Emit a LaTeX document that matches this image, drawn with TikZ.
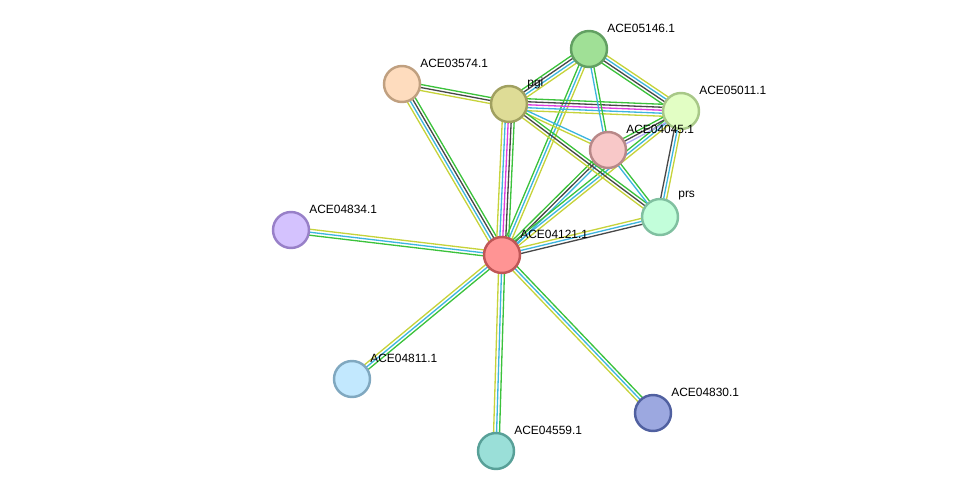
\documentclass[tikz,border=0pt]{standalone}
\usepackage{fontspec}
\newfontfamily\lblfont{Liberation Sans}
\usetikzlibrary{calc}
\pgfdeclarelayer{links}
\pgfsetlayers{links,main}
% evidence colours
\definecolor{lnb}{HTML}{3BC23B}
\definecolor{lcx}{HTML}{484848}
\definecolor{lex}{HTML}{DC3CDC}
\definecolor{ldb}{HTML}{3DB5DE}
\definecolor{ltm}{HTML}{C6D33A}
\definecolor{lho}{HTML}{B0A8F8}
% protein colours (fill, rim)
\definecolor{f04121}{HTML}{FF9494}\definecolor{r04121}{HTML}{C05656}
\definecolor{f05146}{HTML}{A0E096}\definecolor{r05146}{HTML}{62A062}
\definecolor{f03574}{HTML}{FEDCBE}\definecolor{r03574}{HTML}{C0A080}
\definecolor{fpgi}{HTML}{DEDC96}\definecolor{rpgi}{HTML}{A0A060}
\definecolor{f05011}{HTML}{E2FEC4}\definecolor{r05011}{HTML}{A8C888}
\definecolor{f04045}{HTML}{F8C8C8}\definecolor{r04045}{HTML}{B88888}
\definecolor{fprs}{HTML}{C2FEDA}\definecolor{rprs}{HTML}{80C0A0}
\definecolor{f04834}{HTML}{D4C2FE}\definecolor{r04834}{HTML}{9880C8}
\definecolor{f04811}{HTML}{C2E8FE}\definecolor{r04811}{HTML}{80A8C0}
\definecolor{f04830}{HTML}{9CA8E0}\definecolor{r04830}{HTML}{5060A0}
\definecolor{f04559}{HTML}{9ADFD8}\definecolor{r04559}{HTML}{58A098}
\tikzset{
  prot/.style={circle, minimum size=0.72cm, inner sep=0pt, line width=1.4pt, fill=f#1, draw=r#1},
  lbl/.style={anchor=west, inner sep=0pt, font=\lblfont\fontsize{6.8}{8}\selectfont},
}
% one line per evidence channel, side by side
\newcommand\linkbundle[3]{%
  \foreach \c [count=\n] in {#3} {\xdef\nlines{\n}}%
  \foreach \c [count=\k] in {#3} {%
    \pgfmathsetmacro\off{(\k-(\nlines+1)/2)*1.7}%
    \draw[\c, line width=0.75pt] ($(#1)!\off pt!-90:(#2)$) -- ($(#2)!\off pt!90:(#1)$);
  }}
\begin{document}
\begin{tikzpicture}[x=0.02cm, y=-0.02cm]
\useasboundingbox (0,0) rectangle (976,497);
% proteins
\node[prot=04121] (c04121) at (502,255) {};
\node[prot=05146] (c05146) at (589,49) {};
\node[prot=03574] (c03574) at (402,84) {};
\node[prot=pgi] (pgi) at (509,104) {};
\node[prot=05011] (c05011) at (681,111) {};
\node[prot=04045] (c04045) at (608,150) {};
\node[prot=prs] (prs) at (660,217) {};
\node[prot=04834] (c04834) at (291,230) {};
\node[prot=04811] (c04811) at (352,379) {};
\node[prot=04830] (c04830) at (653,413) {};
\node[prot=04559] (c04559) at (496,451) {};
% names
\node[lbl] (t04121) at ([shift={(18,-21)}]c04121.center) {ACE04121.1};
\node[lbl] (t05146) at ([shift={(18,-21)}]c05146.center) {ACE05146.1};
\node[lbl] (t03574) at ([shift={(18,-21)}]c03574.center) {ACE03574.1};
\node[lbl] (tpgi) at ([shift={(18,-21)}]pgi.center) {pgi};
\node[lbl] (t05011) at ([shift={(18,-21)}]c05011.center) {ACE05011.1};
\node[lbl] (t04045) at ([shift={(18,-21)}]c04045.center) {ACE04045.1};
\node[lbl] (tprs) at ([shift={(18,-21)}]prs.center) {prs};
\node[lbl] (t04834) at ([shift={(18,-21)}]c04834.center) {ACE04834.1};
\node[lbl] (t04811) at ([shift={(18,-21)}]c04811.center) {ACE04811.1};
\node[lbl] (t04830) at ([shift={(18,-21)}]c04830.center) {ACE04830.1};
\node[lbl] (t04559) at ([shift={(18,-21)}]c04559.center) {ACE04559.1};
% links
\begin{pgfonlayer}{links}
\linkbundle{c04121}{c04834}{lnb,ldb,ltm}
\linkbundle{c04121}{c04811}{lnb,ldb,ltm}
\linkbundle{c04121}{c04559}{lnb,ldb,ltm}
\linkbundle{c04121}{c04830}{lnb,ldb,ltm}
\linkbundle{c04121}{c03574}{ltm,ldb,lcx,lnb}
\linkbundle{c04121}{pgi}{ltm,ldb,lex,lcx,lnb}
\linkbundle{c04121}{c05146}{lnb,ldb,ltm}
\linkbundle{c04121}{c04045}{lnb,lcx,ldb}
\linkbundle{c04121}{c05011}{lnb,ldb,ltm}
\linkbundle{c04121}{prs}{ltm,ldb,lcx}
\linkbundle{pgi}{c03574}{ltm,lcx,lnb}
\linkbundle{pgi}{c05146}{lnb,lcx,ldb,ltm}
\linkbundle{pgi}{c05011}{lnb,lcx,lex,ldb,ltm}
\linkbundle{pgi}{c04045}{ldb,ltm}
\linkbundle{pgi}{prs}{lnb,lcx,ltm}
\linkbundle{c05146}{c05011}{ltm,ldb,lcx,lnb}
\linkbundle{c05146}{c04045}{lnb,ldb}
\linkbundle{c04045}{c05011}{lnb,lcx,lho}
\linkbundle{c04045}{prs}{lnb,ldb}
\linkbundle{c05011}{prs}{ltm,ldb,lcx}
\end{pgfonlayer}
\end{tikzpicture}
\end{document}
